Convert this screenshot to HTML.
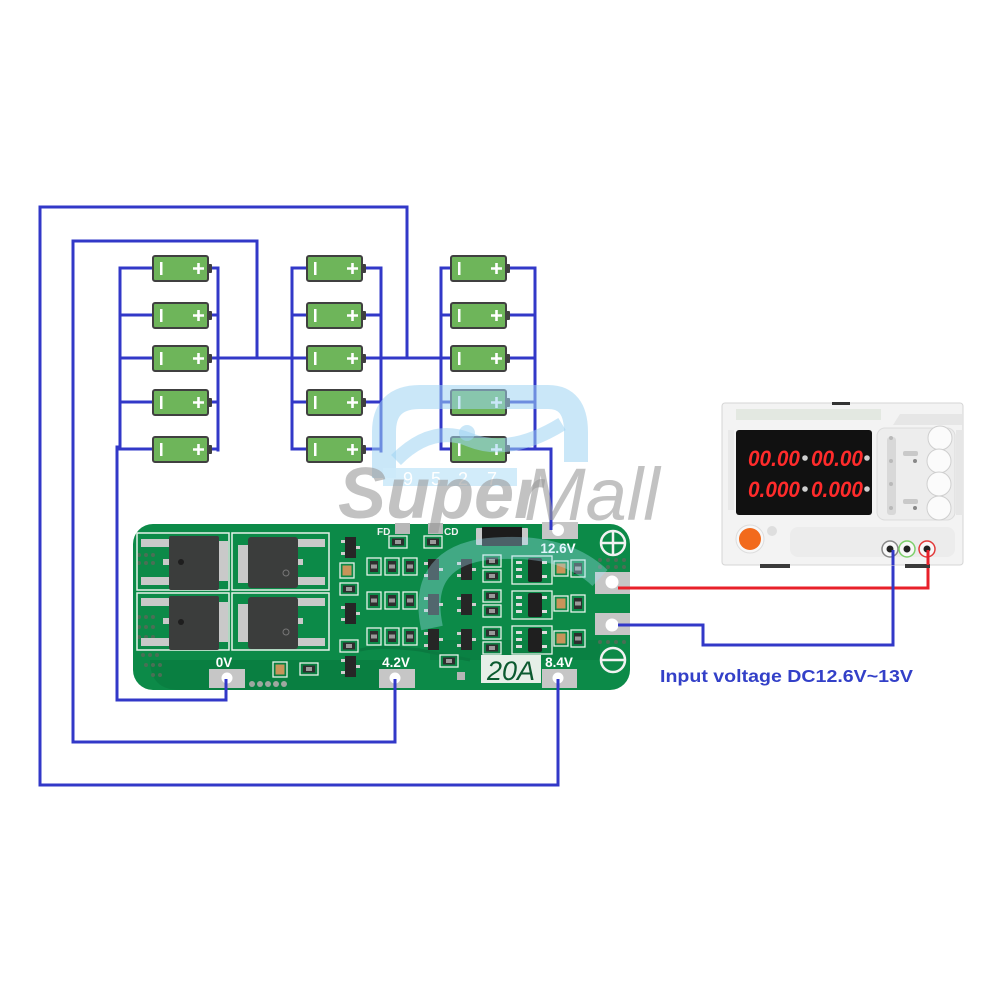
<!DOCTYPE html>
<html><head><meta charset="utf-8"><style>
html,body{margin:0;padding:0;background:#fff;}
svg{display:block;}
text{font-family:"Liberation Sans",sans-serif;}
</style></head><body>
<svg width="1000" height="1000" viewBox="0 0 1000 1000" xmlns="http://www.w3.org/2000/svg">
<defs>
 <g id="bat">
  <rect x="0" y="0" width="55" height="25" rx="2" fill="#6eb55a" stroke="#404040" stroke-width="2"/>
  <rect x="55" y="8" width="4" height="9" rx="1" fill="#404040"/>
  <rect x="7" y="6" width="2.5" height="13" fill="#fff"/>
  <path d="M40 12.5 H51 M45.5 7 V18" stroke="#fff" stroke-width="2.6"/>
 </g>
 <g id="res">
  <rect x="0" y="0" width="14" height="17" fill="none" stroke="#e8f2ea" stroke-width="1.3"/>
  <rect x="3" y="3" width="8" height="11" fill="#2e2e2e"/>
  <rect x="4" y="6.5" width="6" height="4" fill="#9a9a9a"/>
 </g>
 <g id="hres">
  <rect x="0" y="0" width="18" height="12" fill="none" stroke="#e8f2ea" stroke-width="1.3"/>
  <rect x="3" y="2.5" width="12" height="7" fill="#2e2e2e"/>
  <rect x="6" y="4" width="6" height="4" fill="#9a9a9a"/>
 </g>
 <g id="sot">
  <rect x="-4" y="3" width="4" height="3" fill="#cfcfcf"/>
  <rect x="-4" y="15" width="4" height="3" fill="#cfcfcf"/>
  <rect x="11" y="9" width="4" height="3" fill="#cfcfcf"/>
  <rect x="0" y="0" width="11" height="21" fill="#262626"/>
 </g>
 <g id="soic">
  <rect x="-16" y="0" width="40" height="28" fill="none" stroke="#e8f2ea" stroke-width="1.3"/>
  <rect x="-12" y="5" width="6" height="3" fill="#ddd"/>
  <rect x="-12" y="12" width="6" height="3" fill="#ddd"/>
  <rect x="-12" y="19" width="6" height="3" fill="#ddd"/>
  <rect x="14" y="5" width="5" height="3" fill="#ddd"/>
  <rect x="14" y="19" width="5" height="3" fill="#ddd"/>
  <rect x="0" y="2" width="14" height="24" rx="2" fill="#1f1f1f"/>
 </g>
 <g id="cap">
  <rect x="0" y="0" width="14" height="15" fill="none" stroke="#e8f2ea" stroke-width="1.3"/>
  <rect x="2.5" y="2.5" width="9" height="10" fill="#c8945a"/>
 </g>
</defs>

<rect width="1000" height="1000" fill="#fff"/>

<!-- wires -->
<g fill="none" stroke="#3238c8" stroke-width="3" stroke-linecap="square" stroke-linejoin="miter">
 <path d="M40 785 V207 H407 V358"/>
 <path d="M40 785 H558 V678"/>
 <path d="M73 742 V241 H257 V358"/>
 <path d="M73 742 H395 V678"/>
 <path d="M117 447 V700 H226 V678"/>
 <path d="M218 358 H292"/>
 <path d="M381 358 H441"/>
 <!-- col1 -->
 <path d="M120 268 V449"/>
 <path d="M218 268 V450"/>
 <path d="M120 268 H153 M120 315 H153 M120 358 H153 M120 402 H153 M120 449 H153"/>
 <path d="M212 268 H218 M212 315 H218 M212 358 H218 M212 402 H218 M212 449 H218"/>
 <!-- col2 -->
 <path d="M292 268 V449"/>
 <path d="M381 268 V451"/>
 <path d="M292 268 H307 M292 315 H307 M292 358 H307 M292 402 H307 M292 449 H307"/>
 <path d="M366 268 H381 M366 315 H381 M366 358 H381 M366 402 H381 M366 449 H381"/>
 <!-- col3 -->
 <path d="M441 268 V449"/>
 <path d="M535 268 V449"/>
 <path d="M441 268 H451 M441 315 H451 M441 358 H451 M441 402 H451 M441 449 H451"/>
 <path d="M510 268 H535 M510 315 H535 M510 358 H535 M510 402 H535"/>
 <path d="M510 449 H551 V535"/>
</g>

<!-- batteries -->
<g>
 <use href="#bat" x="153" y="256"/><use href="#bat" x="153" y="303"/><use href="#bat" x="153" y="346"/><use href="#bat" x="153" y="390"/><use href="#bat" x="153" y="437"/>
 <use href="#bat" x="307" y="256"/><use href="#bat" x="307" y="303"/><use href="#bat" x="307" y="346"/><use href="#bat" x="307" y="390"/><use href="#bat" x="307" y="437"/>
 <use href="#bat" x="451" y="256"/><use href="#bat" x="451" y="303"/><use href="#bat" x="451" y="346"/><use href="#bat" x="451" y="390"/><use href="#bat" x="451" y="437"/>
</g>

<!-- power wires -->
<g fill="none" stroke-width="3" stroke-linecap="square">
 <path d="M615 588 H928 V552" stroke="#e8202a"/>
 <path d="M615 625 H703 V645 H893 V552" stroke="#3238c8"/>
</g>

<!-- PCB -->
<g>
 <rect x="133" y="524" width="497" height="166" rx="20" fill="#0c8a48"/>
 <path d="M150 660 Q150 690 180 690 L400 690 L400 660 Z" fill="#08783d" opacity="0.6"/>
 <path d="M430 640 H600 V660 H430 Z" fill="#08783d" opacity="0.5"/>
 <path d="M360 650 Q380 645 420 650 L470 660" stroke="#0a7a40" stroke-width="3" fill="none"/>
 <!-- via dots left -->
 <g fill="#4a6f55">
  <circle cx="139" cy="555" r="2"/><circle cx="146" cy="555" r="2"/><circle cx="153" cy="555" r="2"/>
  <circle cx="139" cy="563" r="2"/><circle cx="146" cy="563" r="2"/><circle cx="153" cy="563" r="2"/>
  <circle cx="139" cy="617" r="2"/><circle cx="146" cy="617" r="2"/><circle cx="153" cy="617" r="2"/>
  <circle cx="139" cy="627" r="2"/><circle cx="146" cy="627" r="2"/><circle cx="153" cy="627" r="2"/>
  <circle cx="139" cy="637" r="2"/><circle cx="146" cy="637" r="2"/><circle cx="153" cy="637" r="2"/>
  <circle cx="143" cy="655" r="2"/><circle cx="150" cy="655" r="2"/><circle cx="157" cy="655" r="2"/>
  <circle cx="146" cy="665" r="2"/><circle cx="153" cy="665" r="2"/><circle cx="160" cy="665" r="2"/>
  <circle cx="153" cy="675" r="2"/><circle cx="160" cy="675" r="2"/>
  <circle cx="600" cy="560" r="2"/><circle cx="608" cy="560" r="2"/><circle cx="616" cy="560" r="2"/><circle cx="624" cy="560" r="2"/>
  <circle cx="600" cy="567" r="2"/><circle cx="608" cy="567" r="2"/><circle cx="616" cy="567" r="2"/><circle cx="624" cy="567" r="2"/>
  <circle cx="600" cy="642" r="2"/><circle cx="608" cy="642" r="2"/><circle cx="616" cy="642" r="2"/><circle cx="624" cy="642" r="2"/>
 </g>
 <!-- MOSFET boxes -->
 <g fill="none" stroke="#e8f2ea" stroke-width="1.5">
  <rect x="137" y="533" width="92" height="57"/>
  <rect x="232" y="533" width="97" height="57"/>
  <rect x="137" y="593" width="92" height="57"/>
  <rect x="232" y="593" width="97" height="57"/>
 </g>
 <g fill="#c9c9c9">
  <rect x="141" y="539" width="29" height="8"/><rect x="141" y="577" width="29" height="8"/><rect x="163" y="559" width="8" height="6"/>
  <rect x="217" y="541" width="11" height="40"/>
  <rect x="297" y="539" width="28" height="8"/><rect x="297" y="577" width="28" height="8"/><rect x="295" y="559" width="8" height="6"/>
  <rect x="238" y="545" width="12" height="38"/>
  <rect x="141" y="598" width="29" height="8"/><rect x="141" y="638" width="29" height="8"/><rect x="163" y="618" width="8" height="6"/>
  <rect x="217" y="602" width="11" height="40"/>
  <rect x="297" y="598" width="28" height="8"/><rect x="297" y="638" width="28" height="8"/><rect x="295" y="618" width="8" height="6"/>
  <rect x="238" y="604" width="12" height="38"/>
 </g>
 <g fill="#3b3d3c">
  <rect x="169" y="536" width="50" height="54" rx="2"/>
  <rect x="248" y="537" width="50" height="51" rx="3"/>
  <rect x="169" y="596" width="50" height="54" rx="2"/>
  <rect x="248" y="597" width="50" height="52" rx="3"/>
 </g>
 <g fill="#1e1e1e"><circle cx="181" cy="562" r="3"/><circle cx="181" cy="622" r="3"/><circle cx="286" cy="573" r="3" fill="none" stroke="#777"/><circle cx="286" cy="632" r="3" fill="none" stroke="#777"/></g>
 <!-- left SOT column -->
 <use href="#sot" x="345" y="537"/>
 <use href="#sot" x="345" y="603"/>
 <use href="#sot" x="345" y="656"/>
 <use href="#cap" x="340" y="563"/>
 <use href="#hres" x="340" y="583"/>
 <use href="#hres" x="340" y="640"/>
 <!-- resistor grid -->
 <use href="#res" x="367" y="558"/><use href="#res" x="385" y="558"/><use href="#res" x="403" y="558"/>
 <use href="#res" x="367" y="592"/><use href="#res" x="385" y="592"/><use href="#res" x="403" y="592"/>
 <use href="#res" x="367" y="628"/><use href="#res" x="385" y="628"/><use href="#res" x="403" y="628"/>
 <use href="#hres" x="389" y="536"/><use href="#hres" x="424" y="536"/>
 <!-- middle sots -->
 <use href="#sot" x="428" y="559"/><use href="#sot" x="461" y="559"/>
 <use href="#sot" x="428" y="594"/><use href="#sot" x="461" y="594"/>
 <use href="#sot" x="428" y="629"/><use href="#sot" x="461" y="629"/>
 <use href="#hres" x="483" y="555"/><use href="#hres" x="483" y="570"/>
 <use href="#hres" x="483" y="590"/><use href="#hres" x="483" y="605"/>
 <use href="#hres" x="483" y="627"/><use href="#hres" x="483" y="642"/>
 <!-- soic -->
 <use href="#soic" x="528" y="556"/><use href="#soic" x="528" y="591"/><use href="#soic" x="528" y="626"/>
 <use href="#cap" x="554" y="561"/><use href="#cap" x="554" y="596"/><use href="#cap" x="554" y="631"/>
 <use href="#res" x="571" y="560"/><use href="#res" x="571" y="595"/><use href="#res" x="571" y="630"/>
 <use href="#hres" x="440" y="655"/>
 <rect x="457" y="672" width="8" height="8" fill="#b5b5b5"/>
 <!-- 0V area parts -->
 <use href="#cap" x="273" y="662"/>
 <use href="#hres" x="300" y="663"/>
 <g fill="#9ea8a0"><circle cx="252" cy="684" r="3"/><circle cx="260" cy="684" r="3"/><circle cx="268" cy="684" r="3"/><circle cx="276" cy="684" r="3"/><circle cx="284" cy="684" r="3"/></g>
 <!-- diode -->
 <rect x="476" y="528" width="52" height="17" rx="1" fill="#c9c9c9"/>
 <rect x="482" y="527" width="40" height="19" fill="#1c1c1c"/>
 <!-- FD CD pads -->
 <rect x="395" y="523" width="15" height="11" fill="#b8b8b8"/>
 <rect x="428" y="523" width="15" height="11" fill="#b8b8b8"/>
 <text x="377" y="535" font-size="10" font-weight="bold" fill="#f2f2f2">FD</text>
 <text x="444" y="535" font-size="10" font-weight="bold" fill="#f2f2f2">CD</text>
 <!-- pads -->
 <g fill="#c6c6c6">
  <rect x="209" y="669" width="36" height="19"/>
  <rect x="379" y="669" width="36" height="19"/>
  <rect x="542" y="669" width="35" height="19"/>
  <rect x="542" y="522" width="36" height="17"/>
  <rect x="595" y="572" width="35" height="22"/>
  <rect x="595" y="613" width="35" height="22"/>
 </g>
 <g fill="#fff">
  <circle cx="227" cy="678" r="5.5"/><circle cx="395" cy="678" r="5.5"/><circle cx="558" cy="678" r="5.5"/>
  <circle cx="558" cy="530" r="6"/><circle cx="612" cy="582" r="6.5"/><circle cx="612" cy="625" r="6.5"/>
 </g>
 <!-- 20A -->
 <rect x="481" y="655" width="60" height="28" fill="#e6efe8"/>
 <text x="511" y="680" font-size="27" font-style="italic" fill="#0b5a30" text-anchor="middle">20A</text>
 <!-- labels -->
 <g font-size="13.5" font-weight="bold" fill="#fff" text-anchor="middle">
  <text x="224" y="667">0V</text>
  <text x="396" y="667">4.2V</text>
  <text x="559" y="667">8.4V</text>
  <text x="558" y="553">12.6V</text>
 </g>
 <g fill="none" stroke="#f2f2f2" stroke-width="2.5">
  <circle cx="613" cy="543" r="12"/><path d="M601 543 H625 M613 531 V555"/>
  <circle cx="613" cy="660" r="12"/><path d="M601 660 H625"/>
 </g>
 <!-- wire ends over pads -->
 <g stroke-width="3" fill="none">
  <path d="M226 679 V690" stroke="#3238c8"/><path d="M395 679 V690" stroke="#3238c8"/><path d="M558 679 V690" stroke="#3238c8"/>
  <path d="M551 520 V530" stroke="#3238c8"/>
  <path d="M618 588 H630" stroke="#e8202a"/><path d="M618 625 H630" stroke="#3238c8"/>
 </g>
</g>

<!-- power supply -->
<g>
 <rect x="722" y="403" width="241" height="162" rx="3" fill="#f3f3f3" stroke="#d5d5d5" stroke-width="1"/>
 <rect x="832" y="402" width="18" height="3" fill="#333"/>
 <rect x="736" y="409" width="145" height="11" fill="#e3e8e1"/>
 <path d="M893 425 L900 414 H962 V425 Z" fill="#e6e6e6"/>
 <rect x="728" y="430" width="6" height="80" fill="#e9e9e9"/>
 <rect x="956" y="430" width="7" height="85" fill="#e6e6e6"/>
 <rect x="736" y="430" width="136" height="85" rx="3" fill="#111"/>
 <g font-family="Liberation Mono, monospace" font-style="italic" font-weight="bold" fill="#ff2b2b" font-size="22">
  <text x="748" y="466" textLength="52" lengthAdjust="spacingAndGlyphs">00.00</text>
  <text x="811" y="466" textLength="52" lengthAdjust="spacingAndGlyphs">00.00</text>
  <text x="748" y="497" textLength="52" lengthAdjust="spacingAndGlyphs">0.000</text>
  <text x="811" y="497" textLength="52" lengthAdjust="spacingAndGlyphs">0.000</text>
 </g>
 <g fill="#cfcfcf"><circle cx="805" cy="458" r="2.8"/><circle cx="867" cy="458" r="2.8"/><circle cx="805" cy="489" r="2.8"/><circle cx="867" cy="489" r="2.8"/></g>
 <rect x="877" y="428" width="78" height="92" rx="8" fill="#ededed" stroke="#dcdcdc"/>
 <rect x="887" y="437" width="9" height="78" rx="3" fill="#d8d8d8"/>
 <g fill="#b9b9b9"><circle cx="891" cy="438" r="2"/><circle cx="891" cy="461" r="2"/><circle cx="891" cy="484" r="2"/><circle cx="891" cy="508" r="2"/></g>
 <rect x="903" y="451" width="15" height="5" rx="2" fill="#c9c9c9"/>
 <rect x="903" y="499" width="15" height="5" rx="2" fill="#c9c9c9"/>
 <circle cx="915" cy="461" r="2" fill="#888"/><circle cx="915" cy="508" r="2" fill="#888"/>
 <g fill="#fbfbfb" stroke="#cfcfcf" stroke-width="1">
  <circle cx="940" cy="438" r="12"/><circle cx="939" cy="461" r="12"/><circle cx="939" cy="484" r="12"/><circle cx="939" cy="508" r="12"/>
 </g>
 <rect x="790" y="527" width="165" height="30" rx="8" fill="#ececec"/>
 <circle cx="750" cy="539" r="14" fill="#f7f7f7" stroke="#ddd"/>
 <circle cx="750" cy="539" r="11" fill="#f26a1c"/>
 <circle cx="772" cy="531" r="5" fill="#dedede"/>
 <circle cx="890" cy="549" r="8" fill="#f8f8f8" stroke="#888" stroke-width="1.5"/>
 <circle cx="890" cy="549" r="3.5" fill="#222"/>
 <circle cx="907" cy="549" r="8" fill="#f8f8f8" stroke="#7ccf6a" stroke-width="1.5"/>
 <circle cx="907" cy="549" r="3.5" fill="#222"/>
 <circle cx="927" cy="549" r="8" fill="#f8f8f8" stroke="#e23a3a" stroke-width="1.5"/>
 <circle cx="927" cy="549" r="3.5" fill="#222"/>
 <rect x="760" y="564" width="30" height="4" fill="#3a3a3a"/>
 <rect x="905" y="564" width="25" height="4" fill="#3a3a3a"/>
 <g stroke-width="3"><path d="M893 550 V565" stroke="#3238c8"/><path d="M928 550 V565" stroke="#e8202a"/></g>
</g>

<text x="660" y="682" font-size="17.5" font-weight="bold" fill="#3340c8" textLength="253" lengthAdjust="spacingAndGlyphs">Input voltage DC12.6V~13V</text>

<!-- watermark -->
<g>
 <path d="M384 478 V432 Q384 397 420 397 H548 Q576 397 576 432 V462" fill="none" stroke="#9fd4f3" stroke-width="24" opacity="0.55"/>
 <path d="M396 460 Q432 424 470 440 Q510 456 562 424" fill="none" stroke="#9fd4f3" stroke-width="14" opacity="0.55"/>
 <circle cx="467" cy="433" r="8" fill="#9fd4f3" opacity="0.55"/>
 <path d="M432 628 Q418 562 480 550 Q560 540 600 578" fill="none" stroke="#a6e2f5" stroke-width="22" opacity="0.35"/>
 <rect x="383" y="468" width="134" height="18" fill="#cdeafa" opacity="0.9"/>
 <g font-size="18" fill="#fff" text-anchor="middle">
  <text x="408" y="485">9</text><text x="436" y="485">5</text><text x="463" y="485">2</text><text x="492" y="485">7</text>
 </g>
 <text x="338" y="518" font-size="72" font-weight="bold" font-style="italic" fill="#9a9a9a" opacity="0.6">Super</text>
 <text x="524" y="520" font-size="74" font-style="italic" fill="#9a9a9a" opacity="0.6">Mall</text>
</g>
</svg>
</body></html>
